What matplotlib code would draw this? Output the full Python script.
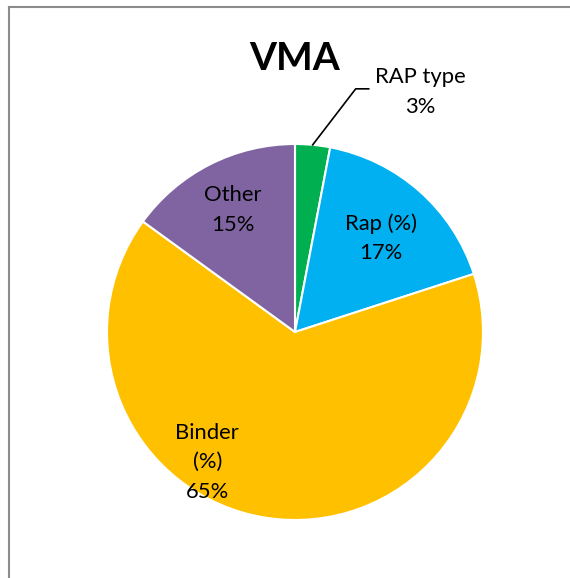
import numpy as np
import matplotlib
matplotlib.use("Agg")
from matplotlib import pyplot as plt
from matplotlib.lines import Line2D

plt.rcParams['font.family'] = ['Lato', 'DejaVu Sans']

# VMA pie data
names = ["RAP type", "Rap (%)", "Binder\n(%)", "Other"]
shares = [3, 17, 65, 15]
colors = ["#00B050", "#00B0F0", "#FFC000", "#8064A2"]

W, H = 570, 578
fig = plt.figure(figsize=(W / 100, H / 100), dpi=100)
ax = fig.add_axes([0, 0, 1, 1])

cx, cy, r = 295, H - 332, 188
wedges, _ = ax.pie(shares, colors=colors, startangle=90, counterclock=False,
                   center=(cx, cy), radius=r,
                   wedgeprops=dict(edgecolor="white", linewidth=1.5))
# pie resets the limits, so set them afterwards
ax.set_xlim(0, W)
ax.set_ylim(0, H)
ax.set_aspect("equal")
ax.axis("off")

fs, ls = 15.8, 1.6

# label placement (fraction of radius, angle offset in degrees from slice middle)
label_pos = [None, (0.675, -1), (0.835, -25), (0.73, 0)]
for w, name, s, pos in zip(wedges, names, shares, label_pos):
    mid = np.deg2rad((w.theta1 + w.theta2) / 2)
    txt = f"{name}\n{s}%"
    if pos is None:
        # outside label with leader line
        ex, ey = cx + r * np.cos(mid), cy + r * np.sin(mid)
        ax.plot([ex, ex + 43, ex + 56], [ey, ey + 56, ey + 56],
                color="black", lw=1.2)
        ax.text(ex + 108, ey + 53, txt, ha="center", va="center",
                fontsize=fs, linespacing=ls)
        continue
    f, off = pos
    a = mid + np.deg2rad(off)
    ax.text(cx + f * r * np.cos(a), cy + f * r * np.sin(a), txt,
            ha="center", va="center", fontsize=fs, linespacing=ls)

ax.text(295, H - 58, "VMA", ha="center", va="center", fontsize=28,
        fontweight="bold")

# chart frame (only top and left visible)
fig.add_artist(Line2D([9 / W, 1], [1 - 7 / H, 1 - 7 / H], color="#8c8c8c", lw=1.5))
fig.add_artist(Line2D([9 / W, 9 / W], [0, 1 - 7 / H], color="#8c8c8c", lw=1.5))

fig.savefig("out.png", dpi=100)
